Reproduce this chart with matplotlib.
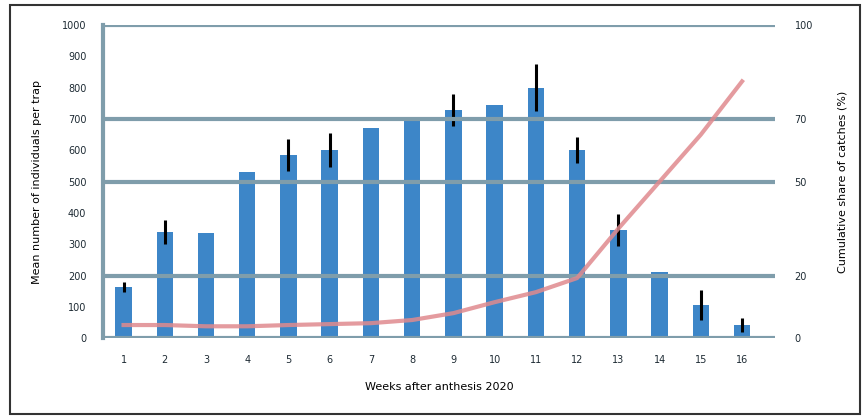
import matplotlib
matplotlib.use("Agg")
import matplotlib.pyplot as plt
from matplotlib.patches import Rectangle

# Weekly counts (left axis) and cumulative share in percent (right axis)
weeks = [str(i) for i in range(1, 17)]
counts = [163, 339, 335, 530, 585, 600, 671, 703, 728, 744, 799, 600, 345, 211, 105, 42]
count_err = [16, 38, 0, 0, 51, 54, 0, 0, 51, 0, 75, 42, 51, 0, 48, 22]
share = [4.2, 4.2, 3.8, 3.8, 4.2, 4.5, 4.8, 5.8, 8.0, 11.5, 14.7, 19.2, 35, 50, 65, 82]

left_ticks = list(range(0, 1001, 100))
right_ticks = [0, 20, 50, 70, 100]

grid_col = "#7f9dab"
bar_col = "#3d86c8"
line_col = "#e08a8e"

fig = plt.figure(figsize=(8.65, 4.17), dpi=100)
ax = fig.add_axes([0.119, 0.189, 0.777, 0.751])
ax2 = ax.twinx()

x = range(len(weeks))
ax.bar(x, counts, width=0.4, color=bar_col, zorder=2)
ax.errorbar(x, counts, yerr=count_err, fmt="none", ecolor="black",
            elinewidth=2.2, capsize=0, zorder=3)
ax.set_xlim(-0.5, len(weeks) - 0.2)
ax.set_ylim(0, 1000)
ax.set_yticks(left_ticks)
ax.set_xticks(list(x))
ax.set_xticklabels(weeks)
ax.set_ylabel("Mean number of individuals per trap", fontsize=8, labelpad=14)
ax.set_xlabel("Weeks after anthesis 2020", fontsize=8, labelpad=12)

ax2.plot(x, share, color=line_col, lw=3, alpha=0.85, zorder=4)
ax2.set_ylim(0, 100)
ax2.set_yticks(right_ticks)
ax2.set_ylabel("Cumulative share of catches (%)", fontsize=8, labelpad=18)
ax2.yaxis.grid(True, color=grid_col, lw=3, zorder=1)
ax2.set_axisbelow(True)

for a in (ax, ax2):
    for s in a.spines.values():
        s.set_visible(False)
    a.tick_params(labelsize=7, length=0, colors="#1d2a33")
ax.spines["left"].set_visible(True)
ax.spines["left"].set_color(grid_col)
ax.spines["left"].set_linewidth(3)
ax.tick_params(axis="x", pad=12)
ax.tick_params(axis="y", pad=12)
ax2.tick_params(axis="y", pad=14)

# frame around the whole figure
fig.patches.append(Rectangle((10 / 865, 3 / 417), 850 / 865, 409 / 417,
                             transform=fig.transFigure, fill=False,
                             edgecolor="#333333", lw=1.5))

fig.savefig("out.png", dpi=100)
